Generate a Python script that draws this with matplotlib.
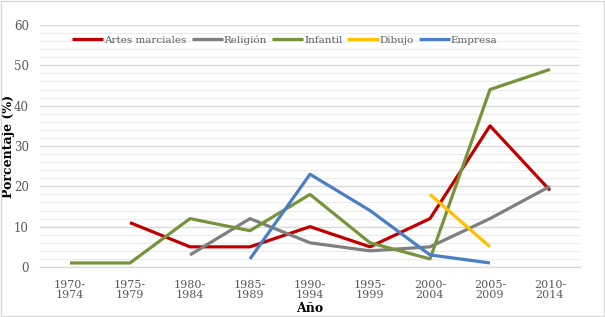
import numpy as np
import matplotlib.pyplot as plt
from matplotlib.ticker import MultipleLocator

periods = ["1970-\n1974", "1975-\n1979", "1980-\n1984", "1985-\n1989", "1990-\n1994",
           "1995-\n1999", "2000-\n2004", "2005-\n2009", "2010-\n2014"]
nan = np.nan
artes = [nan, 11, 5, 5, 10, 5, 12, 35, 19]
religion = [nan, nan, 3, 12, 6, 4, 5, 12, 20]
infantil = [1, 1, 12, 9, 18, 6, 2, 44, 49]
dibujo = [nan, nan, nan, nan, nan, nan, 18, 5, nan]
empresa = [nan, nan, nan, 2, 23, 14, 3, 1, nan]

series = [
    ("Artes marciales", artes, "#C00000"),
    ("Religión", religion, "#7F7F7F"),
    ("Infantil", infantil, "#77933C"),
    ("Dibujo", dibujo, "#FFC000"),
    ("Empresa", empresa, "#4A7EC5"),
]

plt.rcParams["font.family"] = ["DejaVu Serif"]

fig = plt.figure(figsize=(6.05, 3.17), dpi=100)
ax = fig.add_axes([40 / 605, 50 / 317, 540 / 605, 242 / 317])

x = np.arange(len(periods))
for name, vals, col in series:
    ax.plot(x, vals, color=col, lw=2.3, label=name, solid_capstyle="butt", zorder=3)

ax.set_xlim(-0.5, len(periods) - 0.5)
ax.set_ylim(0, 60)
ax.yaxis.set_major_locator(MultipleLocator(10))
ax.yaxis.set_minor_locator(MultipleLocator(2))
ax.grid(True, which="both", axis="y", color="#EBEBEB", lw=0.8, zorder=0)
ax.grid(True, which="major", axis="y", color="#D9D9D9", lw=1.0, zorder=0)
ax.set_xticks(x)
ax.set_xticklabels(periods, fontsize=8, color="#595959", linespacing=1.1)
ax.tick_params(axis="y", labelsize=8.5, labelcolor="#595959", length=0, pad=8)
ax.tick_params(axis="x", length=0, pad=9)
ax.tick_params(which="minor", length=0)
for s in ["top", "right", "left"]:
    ax.spines[s].set_visible(False)
ax.spines["bottom"].set_color("#D9D9D9")

ax.set_xlabel("Año", fontsize=9, fontweight="bold", labelpad=1)
ax.set_ylabel("Porcentaje (%)", fontsize=9, fontweight="bold")
ax.yaxis.set_label_coords(-25 / 540, 0.5)

ax.legend(loc="upper left", bbox_to_anchor=(0.052, 0.975), ncol=5, frameon=False,
          fontsize=7.5, labelcolor="#595959", handlelength=3.0, handletextpad=0.1,
          columnspacing=0.45, borderaxespad=0)

fig.patches.append(plt.Rectangle((0.002, 0.003), 0.996, 0.994, transform=fig.transFigure,
                                 fill=False, edgecolor="#D9D9D9", lw=1))

fig.savefig("out.png", dpi=100)
